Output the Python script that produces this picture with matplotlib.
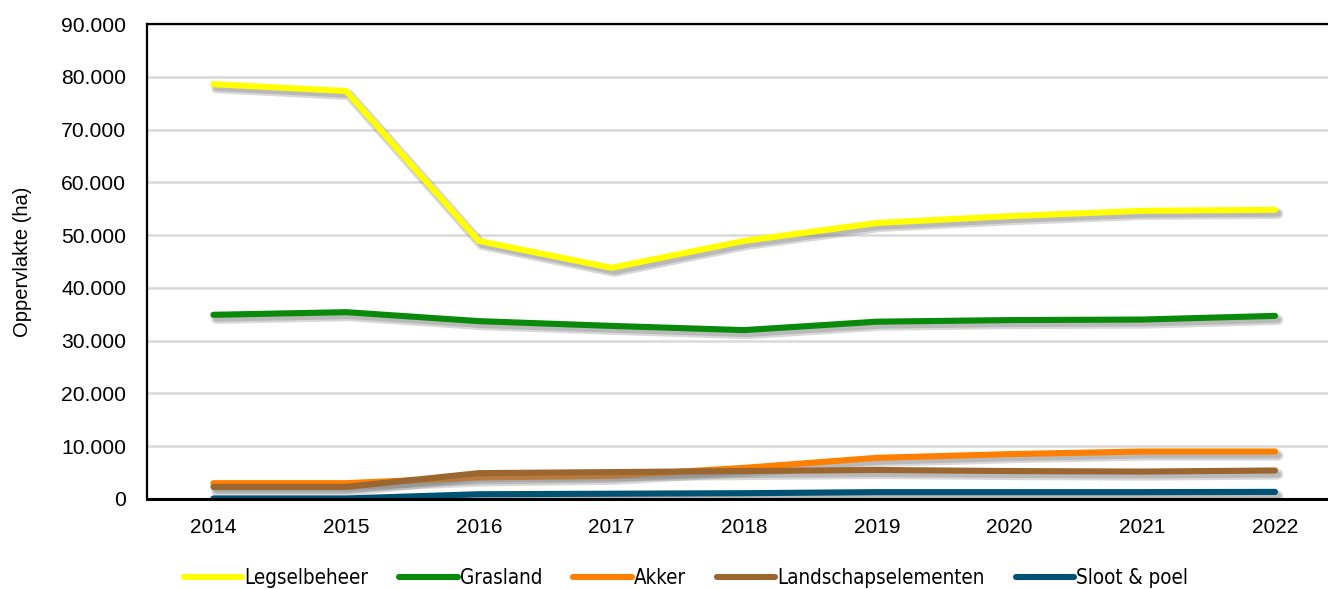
import matplotlib
matplotlib.use("Agg")
import matplotlib.pyplot as plt
import matplotlib.patheffects as pe
from matplotlib.ticker import FuncFormatter, MultipleLocator
from matplotlib.font_manager import FontProperties

years = ["2014", "2015", "2016", "2017", "2018", "2019", "2020", "2021", "2022"]
legselbeheer = [78600, 77300, 48900, 43800, 48900, 52300, 53600, 54600, 54800]
grasland = [34900, 35400, 33700, 32800, 32000, 33600, 33900, 34000, 34700]
akker = [3000, 3000, 4100, 4400, 5900, 7800, 8500, 9000, 9000]
landschapselementen = [2300, 2300, 4900, 5100, 5300, 5500, 5300, 5200, 5400]
sloot_poel = [100, 100, 900, 1000, 1100, 1300, 1300, 1300, 1350]

series = [
    ("Legselbeheer", legselbeheer, "#FFFF00"),
    ("Grasland", grasland, "#0A8A0A"),
    ("Akker", akker, "#FF7F00"),
    ("Landschapselementen", landschapselementen, "#9C6630"),
    ("Sloot & poel", sloot_poel, "#005274"),
]

plt.rcParams['font.family'] = ['Liberation Sans', 'DejaVu Sans']

fig = plt.figure(figsize=(13.28, 5.89), dpi=100)
ax = fig.add_axes([147/1328, 1 - 499/589, 1 - 147/1328, (499 - 24)/589])

x = list(range(len(years)))
lw = 4.4
for name, vals, col in series:
    ax.plot(x, vals, color=col, lw=lw, solid_capstyle='round',
            solid_joinstyle='round', label=name, zorder=3,
            path_effects=[pe.SimpleLineShadow(offset=(2.2, -2.8), shadow_color='0.5',
                                              alpha=0.3, linewidth=lw * 1.7),
                          pe.SimpleLineShadow(offset=(2.2, -2.8), shadow_color='0.45',
                                              alpha=0.3, linewidth=lw * 1.0),
                          pe.Normal()])

ax.set_ylim(0, 90000)
ax.set_xlim(-0.5, 8 + (1328 - 1275) / 132.75)
ax.yaxis.set_major_locator(MultipleLocator(10000))
ax.yaxis.set_major_formatter(FuncFormatter(lambda v, p: f"{int(round(v)):,}".replace(",", ".")))
ax.set_xticks(x)
ax.set_xticklabels(years)
ax.grid(axis='y', color='#D9D9D9', lw=1.8, zorder=0)
ax.set_axisbelow(True)
ax.tick_params(axis='both', length=0, colors='black')
ax.tick_params(axis='x', pad=14, labelsize=15)
ax.tick_params(axis='y', pad=15, labelsize=15.2)
ax.spines['right'].set_visible(False)
for s in ['left', 'bottom', 'top']:
    ax.spines[s].set_color('black')
    ax.spines[s].set_linewidth(1.6)
ax.spines['bottom'].set_linewidth(2.2)
ax.spines['bottom'].set_zorder(4)

ax.set_ylabel("Oppervlakte (ha)", fontsize=14.5)
ax.yaxis.set_label_coords(-115/1181, 0.5)

leg_font = FontProperties(family=['DejaVu Sans'], stretch='condensed', size=14.8)
leg_handles = [plt.Line2D([0], [0], color=c, lw=lw, solid_capstyle='round') for _, _, c in series]
leg = fig.legend(leg_handles, [n for n, _, _ in series], loc='center',
                 bbox_to_anchor=(686/1328, 1 - 578/589), ncol=5, frameon=False,
                 handlelength=2.85, handletextpad=0.1, columnspacing=1.5,
                 prop=leg_font)

fig.savefig("out.png", dpi=100)
